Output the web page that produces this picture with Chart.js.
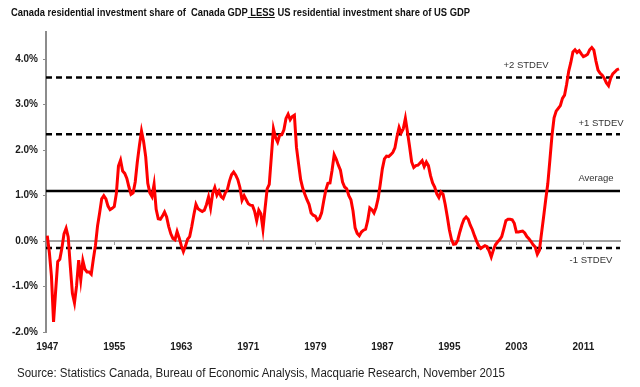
<!DOCTYPE html>
<html>
<head>
<meta charset="utf-8">
<script src="https://cdn.jsdelivr.net/npm/chart.js@4.4.1/dist/chart.umd.min.js"></script>
<style>
    html, body { margin: 0; padding: 0; background: #fff; }
    #wrap { position: relative; width: 640px; height: 387px; overflow: hidden; }
    #chart { position: absolute; left: 0; top: 0; }
    .txt { position: absolute; white-space: nowrap; transform-origin: left center; font-family: "Liberation Sans", Arial, sans-serif; }
    #title { left: 11px; top: 6px; font-size: 10.5px; font-weight: bold; color: #111; }
    #source { left: 17px; top: 366px; font-size: 12px; color: #222; }
</style>
</head>
<body>
<div id="wrap">
    <canvas id="chart" width="640" height="387"></canvas>
    <div id="title" class="txt">Canada residential investment share of&nbsp; Canada GDP<u> LESS</u> US residential investment share of US GDP</div>
    <div id="source" class="txt">Source: Statistics Canada, Bureau of Economic Analysis, Macquarie Research, November 2015</div>
</div>
<script>
// quarterly data, 1947Q1 onwards (% of GDP, Canada minus US)
const startYear = 1947;
const spread = [
    0.12, -0.25, -0.77, -1.78, -1.10, -0.45, -0.40, -0.15, 0.16, 0.28,
    0.09, -0.55, -1.15, -1.36, -0.98, -0.42, -0.85, -0.43, -0.62, -0.68,
    -0.68, -0.73, -0.40, -0.10, 0.33, 0.62, 0.93, 1.00, 0.93, 0.77,
    0.69, 0.72, 0.76, 1.05, 1.65, 1.78, 1.54, 1.49, 1.38, 1.19,
    1.03, 1.06, 1.30, 1.74, 2.10, 2.42, 2.19, 1.86, 1.27, 1.06,
    0.98, 1.25, 0.70, 0.49, 0.48, 0.55, 0.64, 0.53, 0.32, 0.16,
    0.06, 0.03, 0.21, 0.07, -0.10, -0.23, -0.11, 0.04, 0.10, 0.32,
    0.58, 0.81, 0.71, 0.68, 0.65, 0.68, 0.80, 0.97, 0.73, 1.05,
    1.18, 1.01, 1.10, 0.98, 0.94, 1.06, 1.13, 1.32, 1.46, 1.52,
    1.45, 1.35, 1.18, 0.90, 1.00, 0.91, 0.82, 0.79, 0.78, 0.66,
    0.45, 0.68, 0.60, 0.26, 0.72, 1.15, 1.25, 1.86, 2.47, 2.28,
    2.18, 2.33, 2.34, 2.45, 2.70, 2.79, 2.67, 2.74, 2.77, 2.06,
    1.70, 1.35, 1.16, 1.03, 0.91, 0.81, 0.62, 0.57, 0.55, 0.46,
    0.50, 0.62, 0.88, 1.12, 1.27, 1.28, 1.56, 1.90, 1.80, 1.67,
    1.56, 1.30, 1.19, 1.15, 1.00, 0.91, 0.66, 0.29, 0.17, 0.12,
    0.20, 0.24, 0.26, 0.45, 0.73, 0.69, 0.62, 0.74, 0.94, 1.25,
    1.59, 1.81, 1.87, 1.86, 1.90, 1.95, 2.05, 2.30, 2.50, 2.38,
    2.47, 2.70, 2.40, 2.08, 1.74, 1.62, 1.66, 1.67, 1.72, 1.77,
    1.64, 1.74, 1.66, 1.44, 1.28, 1.19, 1.04, 0.96, 1.08, 1.03,
    0.81, 0.54, 0.25, 0.04, -0.07, -0.06, 0.02, 0.20, 0.36, 0.48,
    0.53, 0.48, 0.35, 0.25, 0.12, 0.00, -0.10, -0.16, -0.13, -0.10,
    -0.12, -0.22, -0.35, -0.20, -0.08, -0.02, 0.03, 0.10, 0.27, 0.45,
    0.48, 0.48, 0.47, 0.39, 0.20, 0.20, 0.21, 0.22, 0.18, 0.10,
    0.05, -0.01, -0.08, -0.13, -0.29, -0.20, 0.17, 0.53, 0.91, 1.26,
    1.78, 2.32, 2.71, 2.86, 2.92, 2.98, 3.14, 3.21, 3.45, 3.74,
    3.93, 4.16, 4.21, 4.15, 4.19, 4.12, 4.06, 4.08, 4.11, 4.21,
    4.26, 4.20, 3.96, 3.76, 3.69, 3.65, 3.58, 3.48, 3.42, 3.58,
    3.68, 3.72, 3.77, 3.79
];
const yearTicks = [1947, 1955, 1963, 1971, 1979, 1987, 1995, 2003, 2011];
const pctTicks = [-2, -1, 0, 1, 2, 3, 4];
const bandNames = ["+2 STDEV", "+1 STDEV", "Average", "-1 STDEV"];
const bandLevels = [3.6, 2.35, 1.1, -0.15];

const xMin = 1946.85;
const xMax = 2015.37;

// label placement relative to right edge of plot / line
const labelDx = [-94, -19, -24, -29];
const labelDy = [-12, -11, -13, 12];

const points = spread.map((v, i) => ({ x: startYear + i / 4, y: v }));

const bandSets = bandNames.map((name, i) => ({
    label: name,
    data: [{ x: xMin, y: bandLevels[i] }, { x: xMax, y: bandLevels[i] }],
    borderColor: "#000",
    borderWidth: 2.5,
    borderDash: name === "Average" ? [] : [6, 4],
    pointRadius: 0,
    order: 2,
}));

const setTicks = (values) => (scale) => {
    scale.ticks = values.map((v) => ({ value: v }));
};

const bandLabels = {
    id: "bandLabels",
    afterDatasetsDraw(chart) {
        const { ctx, chartArea, scales } = chart;
        ctx.save();
        ctx.font = '9.5px "Liberation Sans", Arial, sans-serif';
        ctx.fillStyle = "#333";
        ctx.textAlign = "center";
        ctx.textBaseline = "middle";
        bandNames.forEach((name, i) => {
            const y = scales.y.getPixelForValue(bandLevels[i]);
            ctx.fillText(name, chartArea.right + labelDx[i], y + labelDy[i]);
        });
        ctx.restore();
    },
};

const axisFont = { family: '"Liberation Sans", Arial, sans-serif', size: 10, weight: "bold" };

new Chart(document.getElementById("chart"), {
    type: "line",
    data: {
        datasets: [
            {
                label: "Spread",
                data: points,
                borderColor: "#ff0000",
                borderWidth: 3,
                pointRadius: 0,
                tension: 0,
                order: 1,
            },
            ...bandSets,
        ],
    },
    options: {
        responsive: false,
        animation: false,
        layout: { padding: { top: 32, right: 20, left: 0, bottom: 0 } },
        plugins: {
            legend: { display: false },
            tooltip: { enabled: false },
        },
        scales: {
            x: {
                type: "linear",
                position: "bottom",
                min: xMin,
                max: xMax,
                afterBuildTicks: setTicks(yearTicks),
                afterFit: (scale) => { scale.height = 55; },
                grid: { display: false, drawTicks: false },
                border: { display: false },
                ticks: {
                    font: { ...axisFont, family: '"Liberation Sans Narrow", "Liberation Sans", Arial, sans-serif' },
                    color: "#1a1a1a",
                    padding: 9,
                    maxRotation: 0,
                    autoSkip: false,
                    callback: (v) => String(v),
                },
            },
            x2: {
                type: "linear",
                position: { y: 0 },
                min: xMin,
                max: xMax,
                afterBuildTicks: setTicks(yearTicks),
                afterFit: (scale) => { scale.height = 0; },
                grid: { drawOnChartArea: false, drawTicks: true, tickLength: 3, color: "#a0a0a0" },
                border: { color: "#a0a0a0", width: 2 },
                ticks: { display: false },
            },
            y: {
                min: -2,
                max: 4.6,
                afterBuildTicks: setTicks(pctTicks),
                afterFit: (scale) => { scale.width = 46; },
                grid: { drawOnChartArea: false, drawTicks: true, tickLength: 3, color: "#8c8c8c" },
                border: { color: "#8c8c8c", width: 2 },
                ticks: {
                    font: axisFont,
                    color: "#1a1a1a",
                    padding: 5,
                    callback: (v) => v.toFixed(1) + "%",
                },
            },
        },
    },
    plugins: [bandLabels],
});

// squeeze the html texts to the widths seen in the picture
function fitWidth(id, target) {
    const el = document.getElementById(id);
    const w = el.getBoundingClientRect().width;
    el.style.transform = `scaleX(${target / w})`;
}
fitWidth("title", 459);
fitWidth("source", 488);
</script>
</body>
</html>
